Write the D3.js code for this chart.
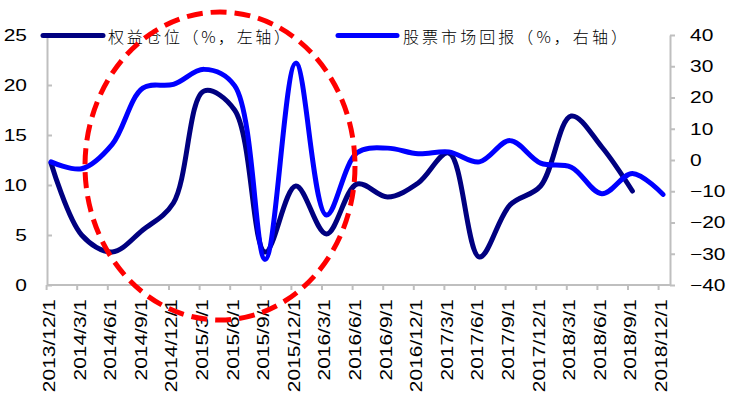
<!DOCTYPE html>
<html>
<head>
<meta charset="utf-8">
<script src="https://cdn.jsdelivr.net/npm/d3@7"></script>
<style>
  body { margin: 0; background: #fff; }
  svg { display: block; }
  .axis path, .axis line { stroke: #bfbfbf; stroke-width: 2px; }
  .axis text, .xlabel { font-family: "Liberation Sans", Arial, sans-serif; font-size: 16.5px; fill: #000; }
  .legend text { font-family: "Noto Sans CJK SC", sans-serif; font-size: 16px; font-weight: 300; fill: #000; }
</style>
</head>
<body>
<svg id="chart" width="729" height="396"></svg>
<script>
// quarterly categories
const categories = [
  '2013/12/1', '2014/3/1', '2014/6/1', '2014/9/1', '2014/12/1',
  '2015/3/1', '2015/6/1', '2015/9/1', '2015/12/1', '2016/3/1',
  '2016/6/1', '2016/9/1', '2016/12/1', '2017/3/1', '2017/6/1',
  '2017/9/1', '2017/12/1', '2018/3/1', '2018/6/1', '2018/9/1', '2018/12/1'
];
// 权益仓位 (%, left axis)
const equityPosition = [12.2, 5.0, 3.3, 5.5, 8.2, 19.4, 17.5, 3.3, 9.9, 5.1,
  10.1, 8.8, 10.2, 13.2, 2.8, 8.0, 9.9, 16.9, 13.8, 9.4, null];
// 股票市场回报 (%, right axis)
const marketReturn = [-0.6, -2.8, 5.0, 23.0, 24.2, 29.0, 23.8, -31.8, 31, -17.6,
  2.3, 3.8, 2.0, 2.6, -0.6, 6.2, -1.0, -2.3, -10.8, -4.3, -11];
const leftTicks = [0, 5, 10, 15, 20, 25];
const rightTicks = [-40, -30, -20, -10, 0, 10, 20, 30, 40];
const seriesNames = ['权益仓位（%，左轴）', '股票市场回报（%，右轴）'];

const svg = d3.select('#chart');
const plotLeft = 47, plotRight = 670, plotTop = 35, plotBottom = 285;
const stretch = 1.27; // text in the source is drawn wide

const x = d3.scalePoint()
  .domain(categories)
  .range([51, 663]);
const tickShift = -4.4; // category ticks sit slightly left of the points

const yLeft = d3.scaleLinear().domain([0, 25]).range([plotBottom, plotTop]);
const yRight = d3.scaleLinear().domain([-40, 40]).range([plotBottom, plotTop]);

// left axis
const axisL = svg.append('g')
  .classed('axis', true)
  .attr('transform', `translate(${plotLeft},0)`)
  .call(d3.axisLeft(yLeft).tickValues(leftTicks).tickSizeInner(-5).tickSizeOuter(0).tickPadding(20));
axisL.selectAll('text')
  .attr('x', -20 / stretch)
  .attr('transform', `scale(${stretch},1)`);

// right axis
const axisR = svg.append('g')
  .classed('axis', true)
  .attr('transform', `translate(${plotRight},0)`)
  .call(d3.axisRight(yRight).tickValues(rightTicks).tickSizeInner(5).tickSizeOuter(0).tickPadding(15));
axisR.selectAll('text')
  .attr('x', 20 / stretch)
  .attr('transform', `scale(${stretch},1)`);

// bottom axis
const axisB = svg.append('g').classed('axis', true);
axisB.append('line')
  .attr('x1', plotLeft).attr('x2', plotRight)
  .attr('y1', plotBottom).attr('y2', plotBottom);
axisB.selectAll('.xtick')
  .data(categories)
  .enter()
  .append('line')
  .classed('xtick', true)
  .attr('x1', d => x(d) + tickShift).attr('x2', d => x(d) + tickShift)
  .attr('y1', plotBottom).attr('y2', plotBottom + 5);
svg.append('g').selectAll('.xlabel')
  .data(categories)
  .enter()
  .append('text')
  .classed('xlabel', true)
  .attr('text-anchor', 'end')
  .attr('dy', '0.36em')
  .attr('transform', d => `translate(${x(d) - 2},${plotBottom + 14}) rotate(-90) scale(${stretch},1)`)
  .text(d => d);

// lines
const curve = d3.curveCatmullRom.alpha(0.5);
const lineLeft = d3.line()
  .defined(d => d[1] !== null)
  .x(d => x(d[0]))
  .y(d => yLeft(d[1]))
  .curve(curve);
const lineRight = d3.line()
  .defined(d => d[1] !== null)
  .x(d => x(d[0]))
  .y(d => yRight(d[1]))
  .curve(curve);

svg.append('path')
  .datum(d3.zip(categories, equityPosition))
  .attr('d', lineLeft)
  .attr('fill', 'none')
  .attr('stroke', '#000080')
  .attr('stroke-width', 5)
  .attr('stroke-linecap', 'round')
  .attr('stroke-linejoin', 'round');

svg.append('path')
  .datum(d3.zip(categories, marketReturn))
  .attr('d', lineRight)
  .attr('fill', 'none')
  .attr('stroke', '#0000ff')
  .attr('stroke-width', 5)
  .attr('stroke-linecap', 'round')
  .attr('stroke-linejoin', 'round');

// legend
const legend = svg.append('g').classed('legend', true);
const legendItems = [
  {name: seriesNames[0], color: '#000080', x0: 43, x1: 103, tx: 108, tl: 182},
  {name: seriesNames[1], color: '#0000ff', x0: 338, x1: 397, tx: 403, tl: 224}
];
legendItems.forEach(it => {
  legend.append('line')
    .attr('x1', it.x0).attr('x2', it.x1)
    .attr('y1', 35.5).attr('y2', 35.5)
    .attr('stroke', it.color)
    .attr('stroke-width', 5)
    .attr('stroke-linecap', 'round');
  legend.append('text')
    .attr('x', it.tx)
    .attr('y', 36)
    .attr('dominant-baseline', 'central')
    .attr('textLength', it.tl)
    .attr('lengthAdjust', 'spacing')
    .text(it.name);
});

// red dashed highlight round the 2014-2016 swing
svg.append('ellipse')
  .attr('cx', 220).attr('cy', 166)
  .attr('rx', 135).attr('ry', 154)
  .attr('fill', 'none')
  .attr('stroke', '#ff0000')
  .attr('stroke-width', 5)
  .attr('stroke-dasharray', '16,8');
</script>
</body>
</html>
